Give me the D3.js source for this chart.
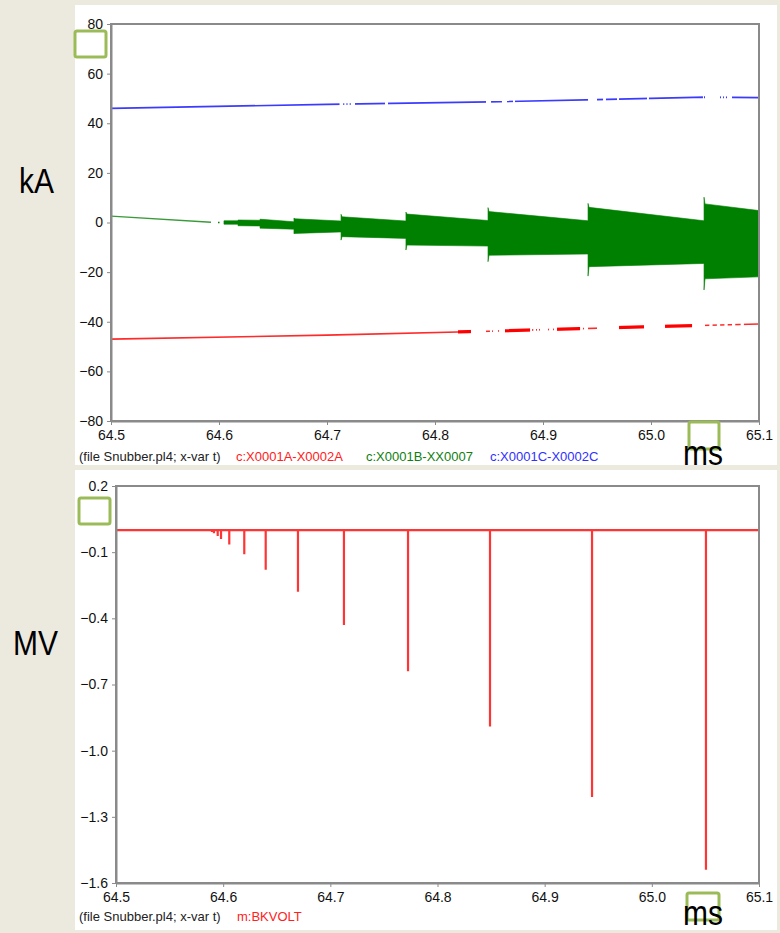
<!DOCTYPE html>
<html>
<head>
<meta charset="utf-8">
<script src="https://cdn.jsdelivr.net/npm/d3@7.9.0/dist/d3.min.js"></script>
<style>
  body { margin: 0; background: #ECE9DF; }
  svg { display: block; font-family: "Liberation Sans", Arial, sans-serif; }
  .axis path, .axis line { stroke: #8a8a8a; }
  .axis path { stroke-width: 2; }
  .axis text { fill: #111; font-size: 14px; }
</style>
</head>
<body>
<svg id="chart" width="780" height="933"></svg>
<script>
// ---- data ----
const timeTicks = [64.5, 64.6, 64.7, 64.8, 64.9, 65.0, 65.1];
const kaTicks = [80, 60, 40, 20, 0, -20, -40, -60, -80];
const mvTicks = [0.2, -0.1, -0.4, -0.7, -1.0, -1.3, -1.6];

// blue: c:X0001C-X0002C
const blueT = [64.5, 64.7, 64.85, 64.95, 65.05, 65.1];
const blueV = [46.0, 47.6, 48.6, 49.5, 50.5, 50.3];
const blueOn = [[64.5, 64.7116], [64.715, 64.716], [64.718, 64.719], [64.721, 64.722],
  [64.7259, 64.7537], [64.7565, 64.8472], [64.8519, 64.862], [64.8667, 64.8722],
  [64.8741, 64.9417], [64.95, 64.9556], [64.9583, 64.9685], [64.9704, 64.9963],
  [64.9981, 65.0481], [65.0491, 65.05], [65.0639, 65.0648], [65.0667, 65.0676],
  [65.0694, 65.0704], [65.075, 65.1]];

// red: c:X0001A-X0002A
const redT = [64.5, 64.7, 64.85, 65.0, 65.1];
const redV = [-47.0, -45.4, -43.8, -42.0, -40.9];
const redThin = [[64.5, 64.8213], [64.8472, 64.8509], [64.8528, 64.8537], [64.8583, 64.8593],
  [64.8898, 64.891], [64.8935, 64.8944], [64.8963, 64.8972], [64.9046, 64.9056],
  [64.9093, 64.9102], [64.937, 64.938], [64.9417, 64.95], [65.05, 65.054],
  [65.057, 65.061], [65.064, 65.068], [65.071, 65.075], [65.078, 65.083], [65.086, 65.1]];
const redThick = [[64.8213, 64.8333], [64.8648, 64.888], [64.913, 64.9343],
  [64.9704, 64.9935], [65.013, 65.038]];

// green: c:X0001B-XX0007
const greenLineT = [64.5, 64.5926];
const greenLineV = [2.6, 0.1];
const greenDot = [64.5991, 64.6005];
const greenStepT   = [64.6046, 64.6176, 64.638, 64.6694, 64.713, 64.7731, 64.8491, 64.9417, 65.0491];
const greenSpikeHi = [0.7, 1.0, 1.3, 1.8, 3.3, 4.2, 6.0, 7.7, 10.2];
const greenSpikeLo = [-0.7, -1.3, -2.3, -4.5, -7.1, -11.1, -15.8, -21.6, -27.2];
const greenStartHi = [0.7, 1.0, 1.3, 1.5, 2.3, 3.4, 4.4, 6.1, 7.5];
const greenStartLo = [-0.7, -1.3, -2.3, -4.4, -5.7, -9.1, -13.2, -17.8, -22.7];
const greenEndHi   = [0.7, 0.9, 0.3, 0.6, 0.6, 0.8, 0.7, 0.7, 4.8];
const greenEndLo   = [-0.7, -1.4, -2.7, -3.8, -6.4, -9.5, -12.7, -16.5, -21.9];

// m:BKVOLT
const voltSpikeT = [64.5896, 64.5914, 64.5949, 64.598, 64.6057, 64.6197, 64.6397,
  64.6698, 64.7127, 64.7725, 64.849, 64.9442, 65.0505];
const voltSpikeV = [-0.008, -0.014, -0.027, -0.040, -0.065, -0.11, -0.18,
  -0.28, -0.43, -0.64, -0.89, -1.21, -1.54];

// legend entries
const legendTop = ['(file Snubber.pl4; x-var t)', 'c:X0001A-X0002A', 'c:X0001B-XX0007', 'c:X0001C-X0002C'];
const legendBot = ['(file Snubber.pl4; x-var t)', 'm:BKVOLT'];

const svg = d3.select('#chart');

// white panels
svg.append('rect').attr('x', 75).attr('y', 5).attr('width', 702).attr('height', 460).attr('fill', '#fff');
svg.append('rect').attr('x', 75).attr('y', 470).attr('width', 702).attr('height', 460).attr('fill', '#fff');

function drawFrame(g, x, y, yTicks, fmt) {
  const [x0, x1] = x.range();
  const [y1, y0] = y.range();
  g.append('rect')
    .attr('x', x0).attr('y', y0).attr('width', x1 - x0).attr('height', y1 - y0)
    .attr('fill', 'none').attr('stroke', '#8a8a8a').attr('stroke-width', 2);
  g.append('g').attr('class', 'axis')
    .attr('transform', `translate(0,${y1})`)
    .call(d3.axisBottom(x).tickValues(timeTicks).tickFormat(d3.format('.1f'))
      .tickSize(4).tickSizeOuter(0).tickPadding(5));
  g.append('g').attr('class', 'axis')
    .attr('transform', `translate(${x0},0)`)
    .call(d3.axisLeft(y).tickValues(yTicks).tickFormat(fmt)
      .tickSize(4).tickSizeOuter(0).tickPadding(4));
}

// ---- top chart (kA) ----
const xTop = d3.scaleLinear().domain([64.5, 65.1]).range([111, 759]);
const yTop = d3.scaleLinear().domain([-80, 80]).range([421, 24]);
const topG = svg.append('g');

svg.append('clipPath').attr('id', 'clipTop').append('rect')
  .attr('x', 111).attr('y', 24).attr('width', 648).attr('height', 397);

function segClip(id, segs) {
  const cp = svg.append('clipPath').attr('id', id);
  cp.selectAll('rect').data(segs).join('rect')
    .attr('x', d => xTop(d[0])).attr('width', d => Math.max(1, xTop(d[1]) - xTop(d[0])))
    .attr('y', 0).attr('height', 933);
}
segClip('blueSeg', blueOn);
segClip('redThinSeg', redThin.concat(redThick));
segClip('redThickSeg', redThick);

const series = topG.append('g').attr('clip-path', 'url(#clipTop)');
const lineTop = d3.line().x(d => xTop(d[0])).y(d => yTop(d[1]));

series.append('path')
  .datum(d3.zip(blueT, blueV))
  .attr('d', lineTop).attr('fill', 'none')
  .attr('stroke', '#3b3bff').attr('stroke-width', 1.7)
  .attr('clip-path', 'url(#blueSeg)');

series.append('path')
  .datum(d3.zip(redT, redV))
  .attr('d', lineTop).attr('fill', 'none')
  .attr('stroke', '#ff2a2a').attr('stroke-width', 1.6)
  .attr('clip-path', 'url(#redThinSeg)');
series.append('path')
  .datum(d3.zip(redT, redV))
  .attr('d', lineTop).attr('fill', 'none')
  .attr('stroke', '#ff0000').attr('stroke-width', 3.2)
  .attr('clip-path', 'url(#redThickSeg)');

series.append('path')
  .datum(d3.zip(greenLineT, greenLineV))
  .attr('d', lineTop).attr('fill', 'none')
  .attr('stroke', '#3a9a3a').attr('stroke-width', 1.3);
series.append('path')
  .datum([[greenDot[0], 0], [greenDot[1], 0]])
  .attr('d', lineTop).attr('fill', 'none')
  .attr('stroke', '#008000').attr('stroke-width', 1.5);

const band = [];
greenStepT.forEach((t, i) => {
  const next = i < greenStepT.length - 1 ? greenStepT[i + 1] : 65.1;
  band.push({ t, hi: greenSpikeHi[i], lo: greenSpikeLo[i] });
  band.push({ t: t + 0.0009, hi: greenStartHi[i], lo: greenStartLo[i] });
  band.push({ t: next, hi: greenEndHi[i], lo: greenEndLo[i] });
});
series.append('path')
  .datum(band)
  .attr('d', d3.area().x(d => xTop(d.t)).y0(d => yTop(d.lo)).y1(d => yTop(d.hi)))
  .attr('fill', '#008000').attr('stroke', '#008000').attr('stroke-width', 0.6);

drawFrame(topG, xTop, yTop, kaTicks, d3.format('d'));

// ---- bottom chart (MV) ----
const xBot = d3.scaleLinear().domain([64.5, 65.1]).range([116, 759]);
const yBot = d3.scaleLinear().domain([-1.6, 0.2]).range([883, 486]);
const botG = svg.append('g');

const voltPts = [[64.5, 0]];
voltSpikeT.forEach((t, i) => {
  voltPts.push([t, 0], [t, voltSpikeV[i]], [t, 0]);
});
voltPts.push([65.1, 0]);
botG.append('path')
  .datum(voltPts)
  .attr('d', d3.line().x(d => xBot(d[0])).y(d => yBot(d[1])))
  .attr('fill', 'none').attr('stroke', '#ff3535').attr('stroke-width', 2.2);

drawFrame(botG, xBot, yBot, mvTicks, d3.format('.1f'));

// ---- legends ----
function legend(y, texts, xs, cols) {
  svg.append('g').selectAll('text').data(texts).join('text')
    .attr('x', (d, i) => xs[i]).attr('y', y)
    .attr('font-size', 13).attr('textLength', null)
    .attr('fill', (d, i) => cols[i]).text(d => d);
}
legend(461, legendTop, [79, 236, 366, 490], ['#222', '#ff2020', '#108010', '#3030ff']);
legend(921, legendBot, [79, 237], ['#222', '#ff2020']);

// ---- annotation boxes ----
const boxes = [[75, 31, 31, 26], [689, 422, 30, 27], [79, 498, 31, 26], [687, 893, 32, 27]];
svg.selectAll('rect.box').data(boxes).join('rect').attr('class', 'box')
  .attr('x', d => d[0]).attr('y', d => d[1]).attr('width', d => d[2]).attr('height', d => d[3])
  .attr('rx', 2).attr('fill', 'none').attr('stroke', '#9BBB59').attr('stroke-width', 3);

// ---- big unit labels ----
function unit(txt, x, y) {
  svg.append('text').attr('transform', `translate(${x},${y}) scale(1,1.18)`)
    .attr('font-size', 30).attr('fill', '#000').text(txt);
}
unit('kA', 19, 193);
unit('MV', 13, 655);
unit('ms', 683, 465);
unit('ms', 683, 925);
</script>
</body>
</html>
